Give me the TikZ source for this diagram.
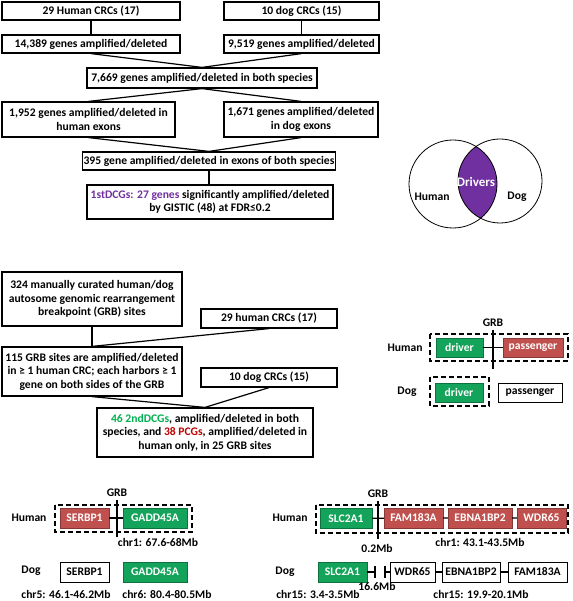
\documentclass[tikz,border=0pt]{standalone}
\usepackage{fontspec}
\setmainfont{Carlito}
\usetikzlibrary{calc}
\definecolor{drvgreen}{RGB}{20,163,90}
\definecolor{pasred}{RGB}{192,80,77}
\definecolor{venpurple}{RGB}{112,48,160}
\definecolor{txtgreen}{RGB}{0,176,80}
\definecolor{txtred}{RGB}{192,0,0}

\begin{document}
\begin{tikzpicture}[x=1pt, y=-1pt,
		every node/.style={font=\fontsize{11.6}{13.5}\selectfont\bfseries},
		box/.style={draw, line width=1.2pt, inner sep=1pt, align=center},
		link/.style={line width=1.2pt},
		gene/.style={minimum height=20, inner sep=0pt, text=white},
		grnbox/.style={gene, fill=drvgreen, draw=drvgreen!70!black, line width=0.4pt},
		redbox/.style={gene, fill=pasred, draw=pasred!70!black, line width=0.4pt},
		whtbox/.style={gene, draw, line width=1pt, text=black},
		dashbox/.style={draw, line width=1.3pt, dash pattern=on 5pt off 3pt},
		grbline/.style={line width=1.2pt}]
		%%%%% START %%%%%
		\useasboundingbox (0,0) rectangle (572,601);
		
		% first pipeline
		\node[box, minimum width=178, minimum height=18] (hcrc) at (91, 11) {29 Human CRCs (17)};
		\node[box, minimum width=155, minimum height=18] (dcrc) at (301.5, 11) {10 dog CRCs (15)};
		\node[box, minimum width=178, minimum height=18] (hgen) at (91, 44) {14,389 genes amplified/deleted};
		\node[box, minimum width=155, minimum height=18] (dgen) at (301.5, 44) {9,519 genes amplified/deleted};
		\node[box, minimum width=230, minimum height=20] (both) at (202, 78) {7,669 genes amplified/deleted in both species};
		\node[box, minimum width=173, minimum height=35] (hexon) at (88.5, 119.5) {1,952 genes amplified/deleted in\\human exons};
		\node[box, minimum width=154, minimum height=35] (dexon) at (301, 119.5) {1,671 genes amplified/deleted\\in dog exons};
		\node[box, minimum width=252, minimum height=18] (bexon) at (209, 161) {395 gene amplified/deleted in exons of both species};
		\node[box, minimum width=246, minimum height=34] (first) at (210, 202) {\textcolor{venpurple}{1stDCGs: 27 genes} significantly amplified/deleted\\by GISTIC (48) at FDR≤0.2};
		
		\draw[link] (hcrc) -- (hgen);
		\draw[link] (dcrc) -- (dgen);
		\draw[link] (hgen.south) -- (both.north);
		\draw[link] (dgen.south) -- (both.north);
		\draw[link] (both.south) -- (hexon.north);
		\draw[link] (both.south) -- (dexon.north);
		\draw[link] (hexon.south) -- (bexon.north);
		\draw[link] (dexon.south) -- (bexon.north);
		\draw[link] (bexon.south) -- (bexon.south |- first.north);
		
		% venn
		\begin{scope}
			\clip (453, 184) circle (44pt);
			\fill[venpurple] (500, 181) circle (42pt);
		\end{scope}
		\draw[line width=0.8pt] (453, 184) circle (44pt);
		\draw[line width=0.8pt] (500, 181) circle (42pt);
		\node (vhum) at (432, 197) {Human};
		\node[text=white, font=\fontsize{13}{15}\selectfont\bfseries] (vdrv) at (476, 182) {Drivers};
		\node (vdog) at (517, 197) {Dog};
		
		% second pipeline
		\node[box, minimum width=180, minimum height=54] (grbs) at (92, 299) {324 manually curated human/dog\\autosome genomic rearrangement\\breakpoint (GRB) sites};
		\node[box, minimum width=136, minimum height=19] (hcrc2) at (269, 318.5) {29 human CRCs (17)};
		\node[box, minimum width=180, minimum height=49] (amp) at (92, 371.5) {115 GRB sites are amplified/deleted\\in ≥ 1 human CRC; each harbors ≥ 1\\gene on both sides of the GRB};
		\node[box, minimum width=136, minimum height=19] (dcrc2) at (269, 377.5) {10 dog CRCs (15)};
		\node[box, minimum width=216, minimum height=49] (second) at (205, 432.5) {\textcolor{txtgreen}{46 2ndDCGs}, amplified/deleted in both\\species, and \textcolor{txtred}{38 PCGs}, amplified/deleted in\\human only, in 25 GRB sites};
		
		\draw[link] (grbs) -- (amp);
		\draw[link] (hcrc2.south) -- (amp.north);
		\draw[link] (amp.south) -- (second.north);
		\draw[link] (dcrc2.south) -- (second.north);
		
		% legend
		\node (lggrb) at (493, 323) {GRB};
		\node (lghum) at (405, 348) {Human};
		\draw[dashbox] (430, 334) rectangle (568, 361);
		\node[grnbox, minimum width=47, minimum height=19] (lgdrv1) at (459.5, 347.5) {driver};
		\node[redbox, minimum width=60, minimum height=19] (lgpas1) at (533, 347.5) {passenger};
		\draw[link] (lgdrv1) -- (lgpas1);
		\draw[grbline] (lggrb.south) -- ++(0, 39);
		
		\node (lgdog) at (407, 392) {Dog};
		\draw[dashbox] (430, 377) rectangle (489, 406);
		\node[grnbox, minimum width=48, minimum height=19] (lgdrv2) at (459, 392.5) {driver};
		\node[whtbox, minimum width=64, minimum height=19] (lgpas2) at (530, 392.5) {passenger};
		
		% SERBP1 / GADD45A
		\node (sgrb) at (117, 493) {GRB};
		\node (shum) at (29, 518) {Human};
		\draw[dashbox] (55, 505) rectangle (192, 532);
		\node[redbox, minimum width=49] (sserh) at (84.5, 518) {SERBP1};
		\node[grnbox, minimum width=64] (sgadh) at (155, 518) {GADD45A};
		\draw[link] (sserh) -- (sgadh);
		\draw[grbline] (sgrb.south) -- ++(0, 37);
		\node (schr1) at (158, 542) {chr1: 67.6-68Mb};
		
		\node (sdog) at (31, 571) {Dog};
		\node[whtbox, minimum width=49] (sserd) at (84.5, 572) {SERBP1};
		\node[grnbox, minimum width=64] (sgadd) at (155, 572) {GADD45A};
		\node (schr5) at (66, 594) {chr5: 46.1-46.2Mb};
		\node (schr6) at (167, 594) {chr6: 80.4-80.5Mb};
		
		% SLC2A1 / FAM183A / EBNA1BP2 / WDR65
		\node (lgrb) at (378, 494) {GRB};
		\node (lhum) at (290, 518) {Human};
		\draw[dashbox] (316, 505) rectangle (568, 533);
		\node[grnbox, minimum width=52] (lslch) at (346, 518.5) {SLC2A1};
		\node[redbox, minimum width=59] (lfamh) at (413.5, 518) {FAM183A};
		\node[redbox, minimum width=64] (lebnh) at (480, 518) {EBNA1BP2};
		\node[redbox, minimum width=49] (lwdrh) at (541.5, 518) {WDR65};
		\draw[link] (lslch) -- (lfamh) (lfamh) -- (lebnh) (lebnh) -- (lwdrh);
		\draw[grbline] (lgrb.south) -- ++(0, 38);
		\node (l02) at (377, 548) {0.2Mb};
		\node (lchr1) at (480, 542) {chr1: 43.1-43.5Mb};
		
		\node (ldog) at (285, 572) {Dog};
		\node[grnbox, minimum width=49] (lslcd) at (342.5, 572) {SLC2A1};
		\node[whtbox, minimum width=45] (lwdrd) at (412.5, 572) {WDR65};
		\node[whtbox, minimum width=58] (lebnd) at (471, 572) {EBNA1BP2};
		\node[whtbox, minimum width=59] (lfamd) at (537.5, 572) {FAM183A};
		\coordinate (lbarl) at (375, 572);
		\coordinate (lbarr) at (385, 572);
		\draw[link] (lslcd) -- (lbarl);
		\draw[link] (lbarr) -- (lwdrd);
		\draw[link] ($(lbarl)+(0,-6)$) -- ($(lbarl)+(0,6)$);
		\draw[link] ($(lbarr)+(0,-6)$) -- ($(lbarr)+(0,6)$);
		\draw[link] (lwdrd) -- (lebnd) (lebnd) -- (lfamd);
		\node (l166) at (377, 586) {16.6Mb};
		\node (lchr15a) at (318, 594) {chr15: 3.4-3.5Mb};
		\node (lchr15b) at (481, 594) {chr15: 19.9-20.1Mb};
		
		%%%%% END %%%%%
	\end{tikzpicture}
\end{document}
